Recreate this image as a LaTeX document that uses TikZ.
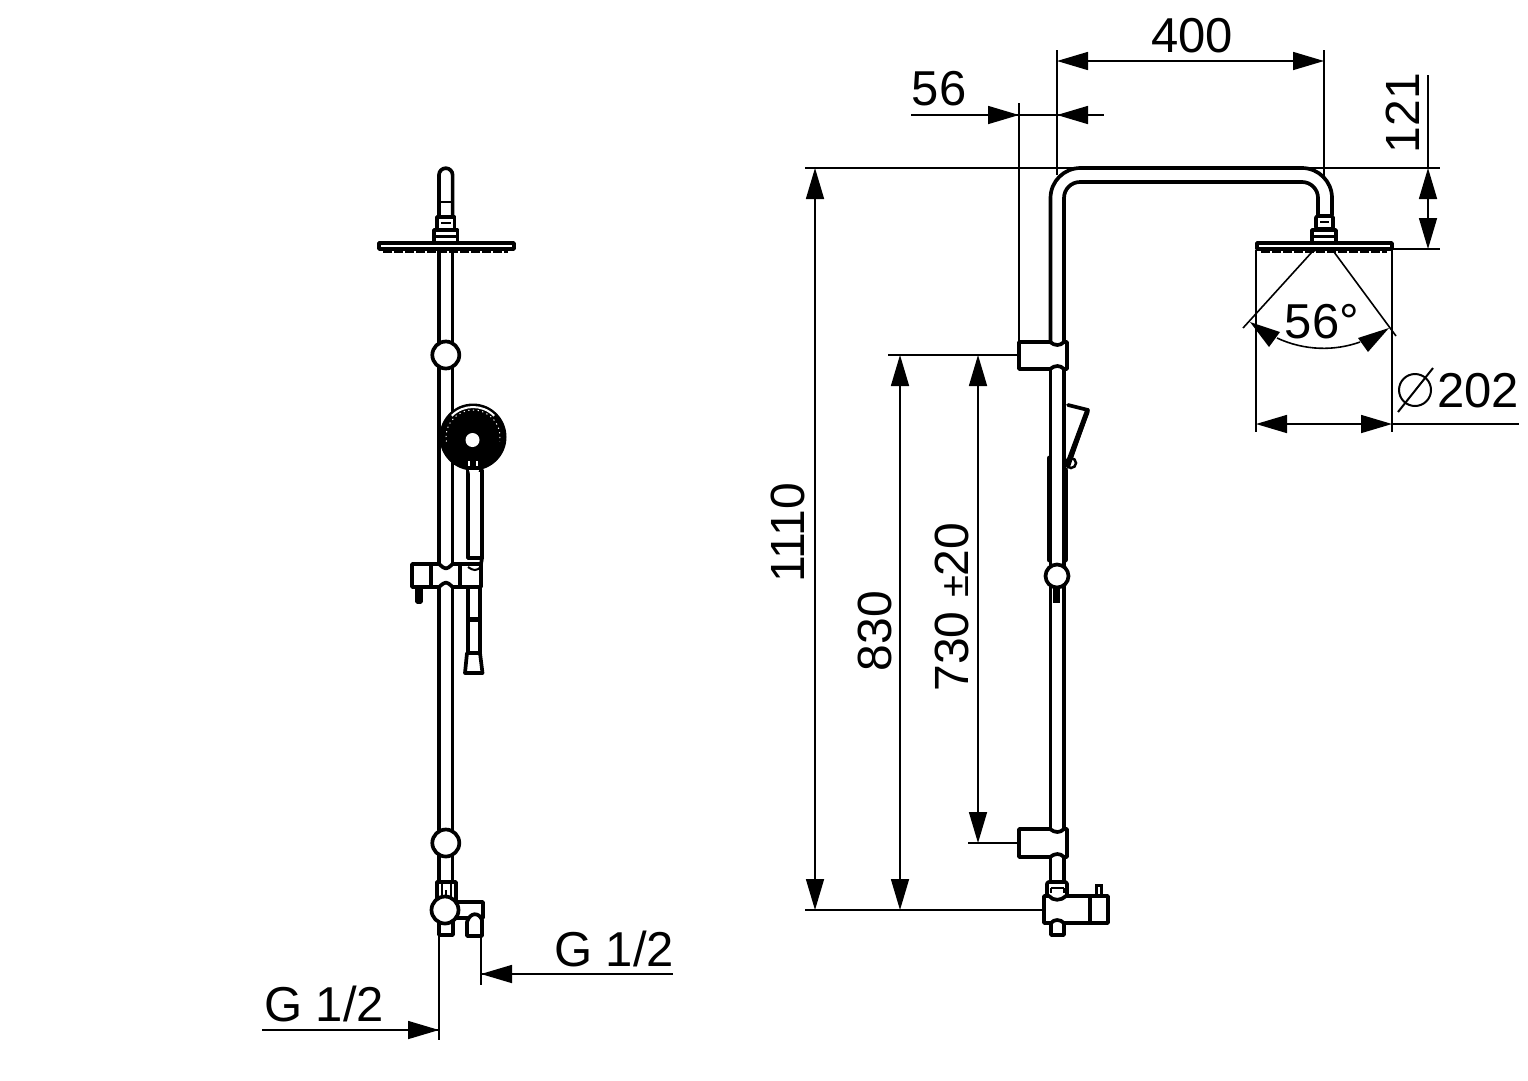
\documentclass[tikz,border=0pt]{standalone}
\usepackage{fontspec}
\setmainfont{Liberation Sans}
\usetikzlibrary{arrows.meta}
\tikzset{
  pipeline/.style={line width=3.7pt,line cap=round,line join=round},
  heavy/.style={line width=5pt,line cap=round,line join=round},
  thinline/.style={line width=1.6pt},
  dim/.style={thinline},
  tip/.tip={Triangle[length=31pt,width=18pt]},
  dimtext/.style={font=\fontsize{49}{52}\selectfont,inner sep=0pt},
  dimtextb/.style={font=\fontsize{48}{50}\selectfont,inner sep=0pt},
  ball/.style={pipeline,fill=white},
  part/.style={pipeline,fill=white}
}
\begin{document}
\begin{tikzpicture}[x=1pt,y=-1pt]
\useasboundingbox (0,0) rectangle (1528,1080);
\fill[white] (0,0) rectangle (1528,1080);

% ---------- left view ----------
\draw[pipeline] (439,217) -- (439,175) arc[start angle=180,end angle=360,radius=6.8] -- (452.6,217);
\draw[thinline] (439,202) -- (452.6,202);
\draw[part] (437,229) -- (437,217) -- (454.5,217) -- (454.5,229);
\draw[line width=2.5pt] (441,223) -- (451,223);
\draw[part] (434,241) -- (434,230) -- (457.5,230) -- (457.5,241);
\draw[line width=3pt] (436,236) -- (456,236);
\draw[pipeline] (379,243) rectangle (514,249);
\draw[line width=3pt,dash pattern=on 9pt off 2pt] (383,251) -- (508,251);
\draw[pipeline] (439,250) -- (439,881);
\draw[pipeline] (452.6,250) -- (452.6,881);
\node[ball,circle,draw,minimum size=27pt,inner sep=0pt] (lballa) at (445.8,355) {};
\node[ball,circle,draw,minimum size=27pt,inner sep=0pt] (lballb) at (445.8,843) {};

% hand shower
\draw[part] (468,470) rectangle (482,558);
\fill[black] (473,437) circle[radius=33.5];
\draw[white,line width=2pt] (473,437) ++(-135:30) arc[start angle=-135,end angle=-45,radius=30];
\draw[white,line width=1pt,dash pattern=on 1.2pt off 3.5pt] (473,437) ++(-190:27) arc[start angle=-190,end angle=10,radius=27];
\fill[white] (472.5,440) circle[radius=7];
\fill[white] (469,470) -- (479,470) -- (477,478) -- (471,478) -- cycle;
\draw[white,line width=1.5pt] (469,461) -- (469,466) (477,461) -- (477,466);

% slider
\draw[part] (412,564) -- (439,564) .. controls (446,570) and (446,570) .. (452.6,564) -- (481,564) -- (481,587) -- (452.6,587) .. controls (446,581) and (446,581) .. (439,587) -- (412,587) -- cycle;
\draw[pipeline] (431,564) -- (431,587);
\draw[pipeline] (460,564) -- (460,587);
\draw[pipeline] (468,558) -- (482,558) -- (481,564);
\draw[line width=2pt] (468,567) .. controls (474,571) and (476,571) .. (481,567);
\draw[pipeline] (417,588) -- (417,602) -- (421,602) -- (421,588);
\draw[pipeline] (468,588) -- (468,653);
\draw[pipeline] (480,588) -- (480,653);
\fill[black] (467,617) rectangle (481,622);
\draw[part] (467,653) -- (480,653) -- (482.5,673) -- (465,673) -- cycle;

% lower fitting
\draw[part] (483,918) -- (483,902) -- (445,902) -- (445,918) -- cycle;
\draw[part] (467,936) -- (467,922) .. controls (470,912) and (479,912) .. (482,920) -- (482,936) -- cycle;
\draw[part] (439,920) -- (439,935) -- (453,935) -- (453,920);
\draw[pipeline] (437,900) -- (437,882) -- (456,882) -- (456,900);
\draw[line width=2pt] (442,884) -- (442,898) (451,884) -- (451,898) (446,890) -- (446,900);
\node[ball,circle,draw,minimum size=27pt,inner sep=0pt] (lballc) at (445,910) {};

% ---------- right view ----------
\draw[dim] (1057,50) -- (1057,175);
\draw[dim] (1324,50) -- (1324,176);
\draw[dim] (805,168) -- (1075,168);
\draw[dim] (1300,168) -- (1440,168);
\draw[pipeline] (1050.5,342) -- (1050.5,198) arc[start angle=180,end angle=270,radius=30] -- (1302,168) arc[start angle=270,end angle=360,radius=30] -- (1332,215);
\draw[pipeline] (1064,342) -- (1064,198) arc[start angle=180,end angle=270,radius=16] -- (1302,182) arc[start angle=270,end angle=360,radius=16] -- (1318,215);
\draw[part,rounded corners=1.5pt] (1316,216) rectangle (1333,229);
\draw[line width=2.5pt] (1320,222) -- (1329,222);
\draw[part] (1312,241) -- (1312,230) -- (1336,230) -- (1336,241);
\draw[line width=3pt] (1314,236) -- (1334,236);
\draw[pipeline] (1257,243) rectangle (1392,249);
\draw[line width=3pt,dash pattern=on 9pt off 2pt] (1261,251) -- (1387,251);

% spray
\draw[thinline] (1312,252) -- (1243,328);
\draw[thinline] (1334,252) -- (1396,336);
\draw[thinline] (1320,248) -- (1312,252) (1328,248) -- (1334,252);
\draw[thinline] (1256,250) -- (1256,432);
\draw[thinline] (1392,250) -- (1392,432);
\draw[thinline] (1277,338) .. controls (1305,351) and (1335,351) .. (1360,342);
\fill (1250,322) -- (1280,332) -- (1269,347) -- cycle;
\fill (1389,328) -- (1358,338) -- (1368,352) -- cycle;

% pipe
\draw[pipeline] (1050.5,369) -- (1050.5,829);
\draw[pipeline] (1064,369) -- (1064,829);

% hand shower, side
\draw[pipeline,fill=white] (1068,405) -- (1088,410) -- (1068,467);
\draw[heavy] (1087,412) -- (1068,463);
\draw[line width=2.5pt] (1071,463) circle[radius=5];
\draw[heavy] (1049.5,458) -- (1049.5,560);
\draw[heavy] (1065,470) -- (1065,560);
\node[ball,circle,draw,minimum size=23pt,inner sep=0pt] (rball) at (1057,576) {};
\fill[black] (1053,588) rectangle (1060,603);

% brackets
\draw[part] (1019,342) -- (1050,342) .. controls (1055,346) and (1060,346) .. (1064,342) -- (1067,342) -- (1067,369) -- (1064,369) .. controls (1060,365) and (1055,365) .. (1050,369) -- (1019,369) -- cycle;
\draw[part] (1019,829) -- (1050,829) .. controls (1055,833) and (1060,833) .. (1064,829) -- (1067,829) -- (1067,857) -- (1064,857) .. controls (1060,853) and (1055,853) .. (1050,857) -- (1019,857) -- cycle;
\draw[pipeline] (1050.5,857) -- (1050.5,882);
\draw[pipeline] (1064,857) -- (1064,882);
\draw[part,rounded corners=2pt] (1047,896) -- (1047,882) -- (1067,882) -- (1067,896);
\draw[line width=2pt] (1051,888) -- (1064,888) (1051,888) -- (1051,893) (1064,888) -- (1064,893);
\draw[part] (1051,924) -- (1051,935) -- (1064,935) -- (1064,924);
\draw[part] (1044,896) -- (1049,896) .. controls (1053,901) and (1061,901) .. (1066,896) -- (1108,896) -- (1108,923) -- (1064,923) .. controls (1060,919) and (1054,919) .. (1051,923) -- (1044,923) -- cycle;
\draw[pipeline] (1090,896) -- (1090,923);
\draw[line width=3pt] (1096,896) -- (1096,885) -- (1101,885) -- (1101,896);

% ---------- dimensions ----------
\draw[dim] (1393,249) -- (1440,249);
\draw[dim,tip-tip] (1057,61) -- (1324,61);
\node[dimtext] (t400) at (1192,36) {400};

\draw[dim] (1019,103) -- (1019,342);
\draw[dim] (911,115) -- (1104,115);
\draw[dim,-tip] (985,115) -- (1019,115);
\draw[dim,-tip] (1090,115) -- (1057,115);
\node[dimtext] (t56) at (939,89) {56};

\draw[dim] (1428,75) -- (1428,168);
\draw[dim,tip-tip] (1428,168) -- (1428,249);
\node[dimtextb,rotate=90] (t121) at (1403,113) {121};

\draw[dim,tip-tip] (1256,424) -- (1392,424);
\draw[dim] (1392,424) -- (1519,424);
\node[dimtext,anchor=west] (t202) at (1437,391) {202};
\draw[line width=2pt] (1415,390) circle[radius=16];
\draw[line width=2pt] (1398,412) -- (1433,368);

\node[dimtext] (t56d) at (1322,322) {56°};

\draw[dim] (888,355) -- (1019,355);
\draw[dim] (968,843) -- (1019,843);
\draw[dim] (805,910) -- (1044,910);
\draw[dim,tip-tip] (815,168) -- (815,910);
\draw[dim,tip-tip] (900,355) -- (900,910);
\draw[dim,tip-tip] (978,355) -- (978,843);
\node[dimtextb,rotate=90] (t1110) at (788,533) {1110};
\node[dimtextb,rotate=90] (t830) at (875,631) {830};
\node[dimtextb,rotate=90] (t730) at (952,607) {730 {\fontsize{40}{42}\selectfont±}20};

\draw[dim] (439,936) -- (439,1040);
\draw[dim] (481,936) -- (481,985);
\draw[dim] (262,1030) -- (439,1030);
\draw[dim,-tip] (405,1030) -- (439,1030);
\draw[dim] (481,974) -- (673,974);
\draw[dim,-tip] (515,974) -- (481,974);
\node[dimtext] (tg1) at (324,1004) {G 1/2};
\node[dimtext] (tg2) at (614,949) {G 1/2};
\end{tikzpicture}
\end{document}
